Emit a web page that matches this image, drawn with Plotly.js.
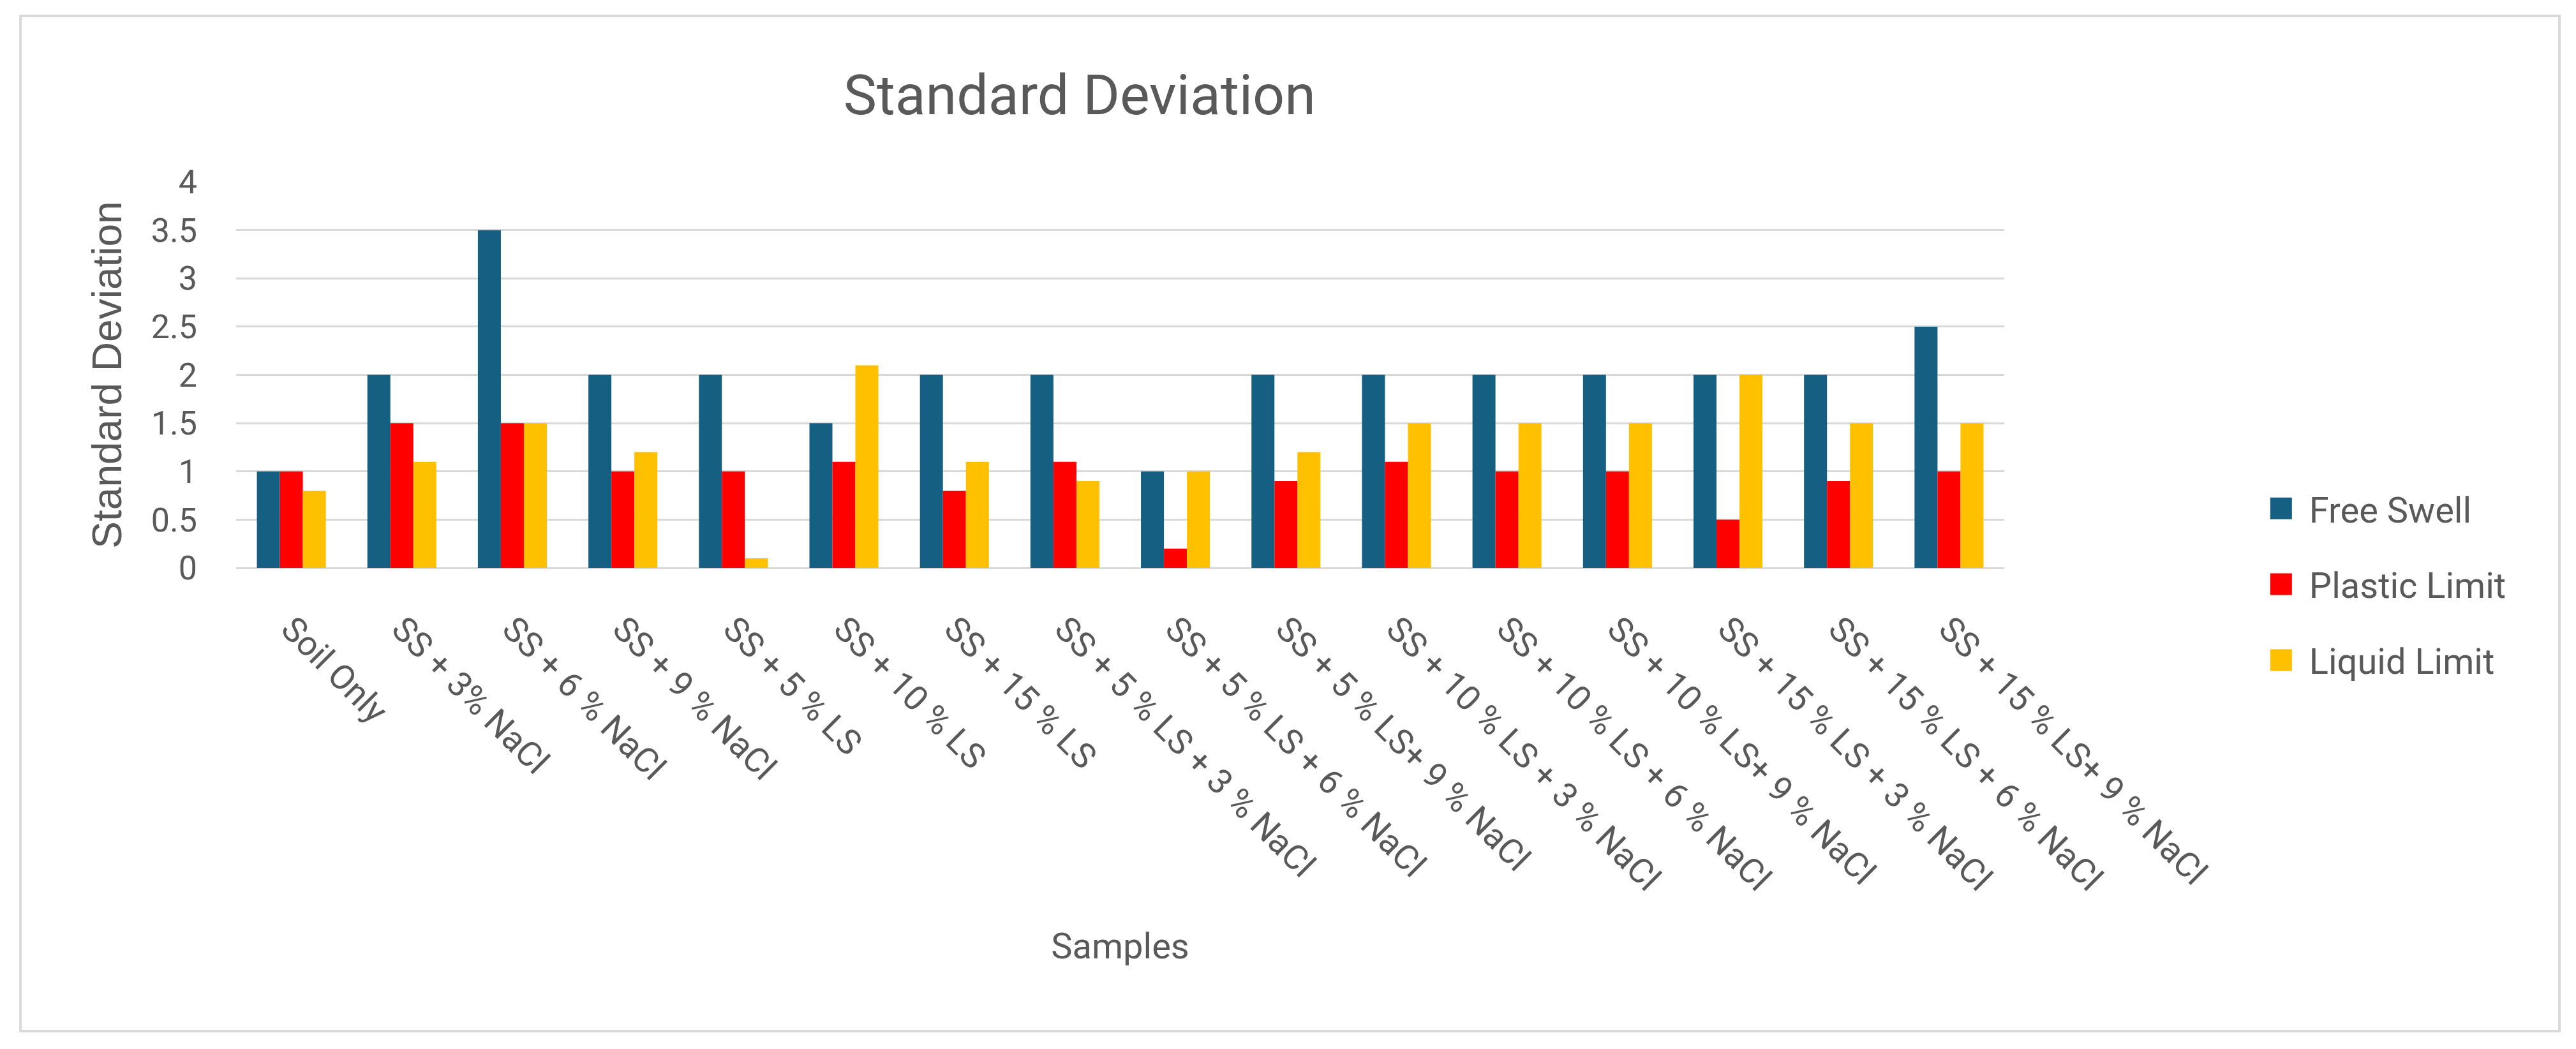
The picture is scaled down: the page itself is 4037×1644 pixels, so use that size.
<!DOCTYPE html>
<html>
<head>
<meta charset="utf-8">
<script src="https://cdn.plot.ly/plotly-3.0.1.min.js"></script>
<style>
	html, body { margin: 0; padding: 0; background: #ffffff; }
	#chartDiv { position: absolute; left: 0; top: 0; width: 4037px; height: 1644px; }
	#frame {
		position: absolute; left: 30px; top: 23px;
		width: 3975px; height: 1587px;
		border: 4px solid #d9d9d9;
		pointer-events: none;
	}
</style>
</head>
<body>
<div id="chartDiv"></div>
<div id="frame"></div>
<script>
// Sample names along the x axis
var samples = [
	"Soil Only",
	"SS + 3% NaCl",
	"SS + 6 % NaCl",
	"SS + 9 % NaCl",
	"SS + 5 % LS",
	"SS + 10 % LS",
	"SS + 15 % LS",
	"SS + 5 % LS + 3 % NaCl",
	"SS + 5 % LS + 6 % NaCl",
	"SS + 5 % LS+ 9 % NaCl",
	"SS + 10 % LS + 3 % NaCl",
	"SS + 10 % LS + 6 % NaCl",
	"SS + 10 % LS+ 9 % NaCl",
	"SS + 15 % LS + 3 % NaCl",
	"SS + 15 % LS + 6 % NaCl",
	"SS + 15 % LS+ 9 % NaCl"
];

// Standard deviation values
var freeSwell    = [1.0, 2.0, 3.5, 2.0, 2.0, 1.5, 2.0, 2.0, 1.0, 2.0, 2.0, 2.0, 2.0, 2.0, 2.0, 2.5];
var plasticLimit = [1.0, 1.5, 1.5, 1.0, 1.0, 1.1, 0.8, 1.1, 0.2, 0.9, 1.1, 1.0, 1.0, 0.5, 0.9, 1.0];
var liquidLimit  = [0.8, 1.1, 1.5, 1.2, 0.1, 2.1, 1.1, 0.9, 1.0, 1.2, 1.5, 1.5, 1.5, 2.0, 1.5, 1.5];

var seriesNames = ["Free Swell", "Plastic Limit", "Liquid Limit"];
var seriesColors = ["#156082", "#ff0000", "#ffc000"];

var textColor = "#595959";
var mainFont = "Roboto, 'Liberation Sans', Arial, sans-serif";

var values = [freeSwell, plasticLimit, liquidLimit];
var data = [];
for (let i = 0; i < values.length; i++) {
	data.push({
		x: samples,
		y: values[i],
		type: "bar",
		name: seriesNames[i],
		legendgroup: "g" + i,
		marker: { color: seriesColors[i] },
		hoverinfo: "x+y+name"
	});
}

var layout = {
	width: 4037,
	height: 1644,
	margin: { l: 370, r: 896, t: 285, b: 754 },
	paper_bgcolor: "rgba(0,0,0,0)",
	plot_bgcolor: "#ffffff",
	barmode: "group",
	bargap: 0.376,
	bargroupgap: 0,
	title: {
		text: "Standard Deviation",
		font: { family: mainFont, size: 88, color: textColor },
		x: 0.477,
		xref: "paper",
		xanchor: "center",
		y: 0.91,
		yref: "container",
		yanchor: "middle"
	},
	xaxis: {
		type: "category",
		tickangle: 45,
		ticks: "",
		showgrid: false,
		showline: false,
		ticklabelstandoff: 52,
		tickfont: { family: mainFont, size: 54, color: textColor },
		title: {
			text: "Samples",
			font: { family: mainFont, size: 56, color: textColor },
			standoff: 55
		},
		automargin: false
	},
	yaxis: {
		range: [0, 4],
		dtick: 0.5,
		ticks: "",
		showline: false,
		showgrid: true,
		gridcolor: "#d9d9d9",
		gridwidth: 3,
		zeroline: true,
		zerolinecolor: "#d9d9d9",
		zerolinewidth: 3,
		ticklabelstandoff: 60,
		tickfont: { family: mainFont, size: 52, color: textColor },
		title: {
			text: "Standard Deviation",
			font: { family: "'Liberation Sans', Arial, sans-serif", size: 64, color: textColor },
			standoff: 25
		},
		automargin: false
	},
	showlegend: true,
	legend: {
		x: 1.158,
		xanchor: "left",
		y: 0.225,
		yanchor: "top",
		traceorder: "grouped",
		tracegroupgap: 43,
		bgcolor: "rgba(0,0,0,0)",
		borderwidth: 0,
		font: { family: mainFont, size: 56, color: textColor }
	}
};

function enlargeSwatches() {
	// the legend is clipped to its box, let the bigger swatches show
	var clipped = document.querySelectorAll(".legend [clip-path]");
	for (let i = 0; i < clipped.length; i++) {
		clipped[i].removeAttribute("clip-path");
	}
	// Plotly draws small bar swatches; redraw them as squares like in the reference
	var swatches = document.querySelectorAll(".legend .legendpoints path");
	for (let i = 0; i < swatches.length; i++) {
		swatches[i].setAttribute("d", "M-17,-17H17V17H-17Z");
		swatches[i].setAttribute("transform", "translate(-4,0)");
		swatches[i].style.strokeWidth = "0px";
	}
}

Plotly.newPlot("chartDiv", data, layout, { displayModeBar: false, staticPlot: true }).then(enlargeSwatches);
</script>
</body>
</html>
